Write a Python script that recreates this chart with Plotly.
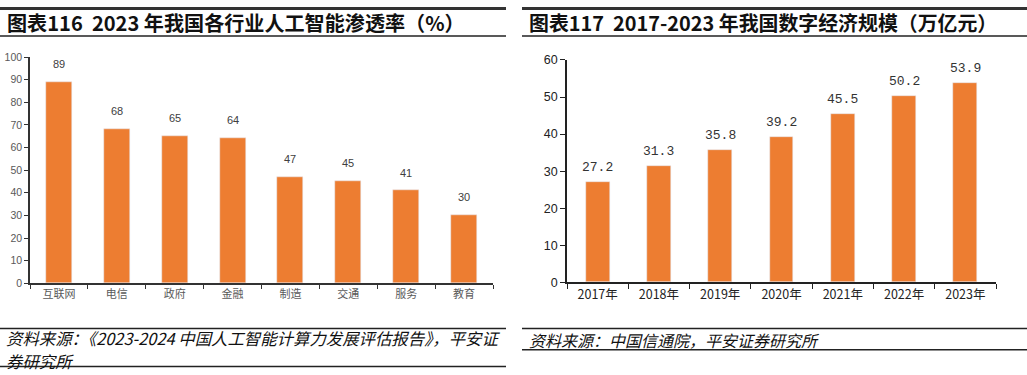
import plotly.graph_objects as go

W, H = 1027, 375

# ---- data ----
industries = ["互联网", "电信", "政府", "金融", "制造", "交通", "服务", "教育"]
ai_penetration = [89, 68, 65, 64, 47, 45, 41, 30]

years = ["2017年", "2018年", "2019年", "2020年", "2021年", "2022年", "2023年"]
digital_economy = [27.2, 31.3, 35.8, 39.2, 45.5, 50.2, 53.9]

title_left = "图表116  2023 年我国各行业人工智能渗透率（%）"
title_right = "图表117  2017-2023 年我国数字经济规模（万亿元）"
source_left_1 = "资料来源：《2023-2024 中国人工智能计算力发展评估报告》，平安证"
source_left_2 = "券研究所"
source_right = "资料来源：中国信通院，平安证券研究所"

ORANGE = "#ED7D31"
CJK = "Noto Sans CJK SC, Noto Sans, sans-serif"

def px_x(x):
    return x / W

def px_y(y):
    return 1 - y / H

fig = go.Figure()

fig.add_trace(go.Bar(
    x=industries, y=ai_penetration, marker_color=ORANGE, width=0.45,
    xaxis="x", yaxis="y", showlegend=False, hoverinfo="x+y",
))
fig.add_trace(go.Bar(
    x=years, y=digital_economy, marker_color=ORANGE, width=0.39,
    xaxis="x2", yaxis="y2", showlegend=False, hoverinfo="x+y",
))

annotations = []
for c, v in zip(industries, ai_penetration):
    annotations.append(dict(x=c, y=v, xref="x", yref="y", text=str(v),
                            showarrow=False, yanchor="bottom", yshift=10,
                            font=dict(family="Liberation Sans, Arial", size=11, color="#404040")))
for c, v in zip(years, digital_economy):
    annotations.append(dict(x=c, y=v, xref="x2", yref="y2", text=f"{v:.1f}",
                            showarrow=False, yanchor="bottom", yshift=5,
                            font=dict(family="Liberation Mono, monospace", size=13, color="#333333")))

# titles and sources
annotations += [
    dict(x=px_x(5), y=px_y(16), xref="paper", yref="paper", text=f"<b>{title_left}</b>",
         showarrow=False, xanchor="left", yanchor="middle",
         font=dict(family=CJK, size=20.1, color="#111111")),
    dict(x=px_x(527), y=px_y(16), xref="paper", yref="paper", text=f"<b>{title_right}</b>",
         showarrow=False, xanchor="left", yanchor="middle",
         font=dict(family=CJK, size=19.9, color="#111111")),
    dict(x=px_x(5), y=px_y(343.5), xref="paper", yref="paper", text=f"<i>{source_left_1}</i>",
         showarrow=False, xanchor="left", yanchor="middle", borderpad=0,
         font=dict(family=CJK, size=16.4, color="#111111")),
    dict(x=px_x(5), y=px_y(367.5), xref="paper", yref="paper", text=f"<i>{source_left_2}</i>",
         showarrow=False, xanchor="left", yanchor="middle", borderpad=0,
         font=dict(family=CJK, size=16.4, color="#111111")),
    dict(x=px_x(527), y=px_y(346), xref="paper", yref="paper", text=f"<i>{source_right}</i>",
         showarrow=False, xanchor="left", yanchor="middle",
         font=dict(family=CJK, size=16, color="#111111")),
]

def hline(x0, x1, y, w, color="#222222"):
    return dict(type="line", xref="paper", yref="paper",
                x0=px_x(x0), x1=px_x(x1), y0=px_y(y), y1=px_y(y),
                line=dict(color=color, width=w))

shapes = [
    hline(0, 506, 1.5, 3, "#333333"),
    hline(522, 1027, 1.5, 3, "#333333"),
    hline(0, 506, 30, 1.5),
    hline(522, 1027, 30, 1.5),
    hline(0, 506, 334, 1.5),
    hline(522, 1027, 334, 1.5),
    hline(0, 506, 373.5, 1.5),
    hline(522, 1027, 356, 1.5),
]

fig.update_layout(
    width=W, height=H,
    margin=dict(l=0, r=0, t=0, b=0),
    paper_bgcolor="white", plot_bgcolor="white",
    bargap=0,
    annotations=annotations,
    shapes=shapes,
    xaxis=dict(domain=[px_x(30), px_x(493)], anchor="y", range=[-0.5, 7.5],
               showline=True, linecolor="#333333", linewidth=1.5,
               ticks="outside", ticklen=4, tickcolor="#333333", tickson="boundaries",
               showgrid=False, zeroline=False,
               tickfont=dict(family=CJK, size=11, color="#595959")),
    yaxis=dict(domain=[px_y(287), px_y(52)], anchor="x", range=[0, 100], dtick=10,
               showline=True, linecolor="#333333", linewidth=1.5,
               ticks="outside", ticklen=4, tickcolor="#333333",
               showgrid=False, zeroline=False,
               tickfont=dict(family="Liberation Sans, Arial", size=10.5, color="#595959")),
    xaxis2=dict(domain=[px_x(567), px_x(996)], anchor="y2", range=[-0.5, 6.5],
                showline=True, linecolor="#222222", linewidth=1.5,
                ticks="outside", ticklen=5, tickcolor="#222222", tickson="boundaries",
                showgrid=False, zeroline=False,
                tickfont=dict(family=CJK, size=12.5, color="#222222")),
    yaxis2=dict(domain=[px_y(286), px_y(55)], anchor="x2", range=[0, 60], dtick=10,
                showline=True, linecolor="#222222", linewidth=1.5,
                ticks="outside", ticklen=5, tickcolor="#222222",
                showgrid=False, zeroline=False,
                tickfont=dict(family="Liberation Sans, Arial", size=12.5, color="#222222")),
)

fig.write_html("out.html", config={"displayModeBar": False},
               post_script="document.body.style.margin='0';document.body.style.overflow='hidden';")
